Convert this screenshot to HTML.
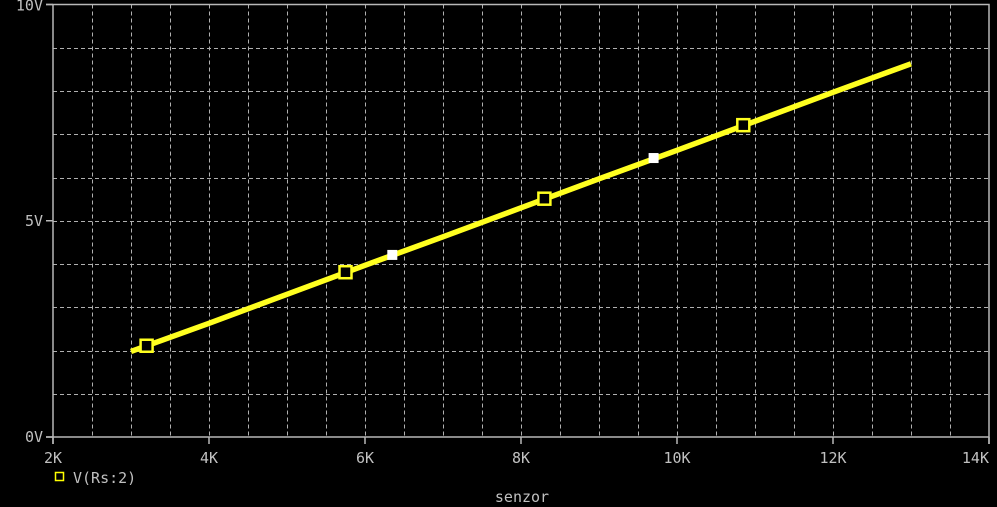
<!DOCTYPE html>
<html><head><meta charset="utf-8"><style>
html,body{margin:0;padding:0;background:#000;width:997px;height:507px;overflow:hidden}
svg text{font-family:"DejaVu Sans Mono","Liberation Mono",monospace;fill:#c0c0c0;font-size:15px}
</style></head><body>
<svg id="chart" width="997" height="507" xmlns="http://www.w3.org/2000/svg">
<g id="grid"></g>
<g id="axes"></g>
<g id="series"></g>
<g>
<rect x="55.5" y="472.5" width="8" height="8" fill="none" stroke="#ffff00" stroke-width="1.5"/>
<text x="73" y="483">V(Rs:2)</text>
</g>
<text x="522" y="502" text-anchor="middle">senzor</text>
</svg>
<script>
const xTicks=[2,4,6,8,10,12,14];
const xTickLabels=["2K","4K","6K","8K","10K","12K","14K"];
const yTicks=[0,5,10];
const yTickLabels=["0V","5V","10V"];
const xValues=[3.0,4,5,6,7,8,9,10,11,12,13.0];
const yValues=[1.98,2.63,3.3,3.97,4.63,5.3,5.97,6.63,7.3,7.97,8.63];
const markerX=[3.2,5.75,8.3,10.85];
const markerY=[2.11,3.81,5.51,7.21];
const whiteX=[6.35,9.7];
const whiteY=[4.21,6.45];
const L=53,R=989,T=4.5,B=437;
const sx=v=>L+(v-2)/(14-2)*(R-L);
const sy=v=>B-(v/10)*(B-T);
const NS="http://www.w3.org/2000/svg";
function mk(tag,attrs,parent){const e=document.createElementNS(NS,tag);for(const k in attrs)e.setAttribute(k,attrs[k]);parent.appendChild(e);return e;}
const grid=document.getElementById('grid'),axes=document.getElementById('axes'),series=document.getElementById('series');
for(let v=2.5;v<14;v+=0.5){if(Number.isInteger(v/2))continue;const x=Math.round(sx(v))+0.5;
const g=mk('line',{x1:x,y1:T,x2:x,y2:B,stroke:'#b0b0b0','stroke-width':1,'stroke-dasharray':'4,3'},grid);
}
for(let v=2;v<=12;v+=2){if(v===2)continue;const x=Math.round(sx(v))+0.5;
const g=mk('line',{x1:x,y1:T,x2:x,y2:B,stroke:'#b0b0b0','stroke-width':1,'stroke-dasharray':'4,3'},grid);
}
for(let v=1;v<10;v++){const y=Math.round(sy(v))+0.5;
const g=mk('line',{x1:L,y1:y,x2:R,y2:y,stroke:'#b0b0b0','stroke-width':1,'stroke-dasharray':'4,3'},grid);
}
const frame=mk('path',{d:`M${L-7},${T}H${R}V${B+7}M${L},${T}V${B+7}M${L-7},${B}H${R}`,fill:'none',stroke:'#b8b8b8','stroke-width':1.5},axes);

xTicks.forEach((v,i)=>{const x=sx(v);
const tk=mk('line',{x1:x,y1:B,x2:x,y2:B+7,stroke:'#b8b8b8','stroke-width':1.5},axes);

const t=mk('text',{x:x,y:B+26,'text-anchor':i===xTicks.length-1?'end':'middle'},axes);t.textContent=xTickLabels[i];
});
yTicks.forEach((v,i)=>{const y=sy(v);
const tk=mk('line',{x1:L-7,y1:y,x2:L,y2:y,stroke:'#b8b8b8','stroke-width':1.5},axes);

const t=mk('text',{x:L-10,y:i===yTicks.length-1?y+6:y+5,'text-anchor':'end'},axes);t.textContent=yTickLabels[i];
});
const pts=xValues.map((v,i)=>sx(v).toFixed(1)+','+sy(yValues[i]).toFixed(1)).join(' ');
const line=mk('polyline',{points:pts,fill:'none',stroke:'#ffff20','stroke-width':5.5},series);

markerX.forEach((v,i)=>{const m=mk('rect',{x:sx(v)-6,y:sy(markerY[i])-6,width:12,height:12,fill:'#000',stroke:'#ffff20','stroke-width':2.5},series);
});
whiteX.forEach((v,i)=>{const m=mk('rect',{x:sx(v)-5,y:sy(whiteY[i])-5,width:10,height:10,fill:'#ffffff'},series);
});
</script>
</body></html>
